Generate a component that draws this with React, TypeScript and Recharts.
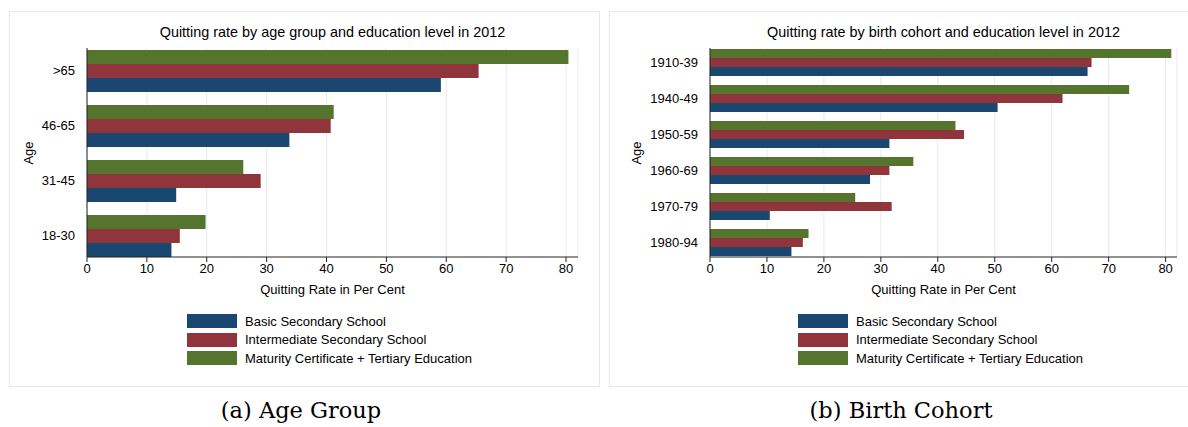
import React from "react";
import { BarChart, Bar, XAxis, YAxis, CartesianGrid } from "recharts";

// (a) age groups, top to bottom
const ageGroups = [">65", "46-65", "31-45", "18-30"];
const ageBasic = [59.1, 33.8, 14.9, 14.1];
const ageInter = [65.4, 40.7, 29.0, 15.5];
const ageMatura = [80.4, 41.2, 26.1, 19.8];

// (b) birth cohorts, top to bottom
const cohorts = ["1910-39", "1940-49", "1950-59", "1960-69", "1970-79", "1980-94"];
const cohortBasic = [66.3, 50.5, 31.5, 28.1, 10.5, 14.3];
const cohortInter = [67.0, 61.9, 44.6, 31.5, 31.9, 16.3];
const cohortMatura = [81.0, 73.6, 43.1, 35.7, 25.5, 17.3];

const xTicks = [0, 10, 20, 30, 40, 50, 60, 70, 80];
const seriesNames = [
  "Basic Secondary School",
  "Intermediate Secondary School",
  "Maturity Certificate + Tertiary Education",
];
const colors = ["#1a476f", "#90353b", "#55752f"];

const sans = "'Liberation Sans', Arial, sans-serif";
const H = 300;
const TOP = 48;
const BOTTOM = 257;

function Panel({
  x, width, title, cats, basic, inter, matura, plotLeft, plotRight, pad, gap, caption, captionX, labelX, boxRight,
}: {
  x: number; width: number; title: string; cats: string[]; basic: number[]; inter: number[]; matura: number[];
  plotLeft: number; plotRight: number; pad: [number, number]; gap: number; caption: string; captionX: number;
  labelX: number; boxRight: number;
}) {
  const data = cats.map((c, i) => ({ name: c, basic: basic[i], inter: inter[i], matura: matura[i] }));
  const yw = 70;
  const center = (plotLeft + plotRight) / 2;
  return (
    <div style={{ position: "absolute", left: x, top: 0, width, height: 427 }}>
      <div style={{ position: "absolute", left: 9, top: 11, width: boxRight - 9, height: 376, border: "1px solid #e4eaec", boxSizing: "border-box" }} />
      <div style={{ position: "absolute", left: center - 250, width: 500, top: 24, textAlign: "center", fontFamily: sans, fontSize: 14.4, color: "#000" }}>
        {title}
      </div>
      <div style={{ position: "absolute", left: 0, top: 0 }}>
        <BarChart
          width={width}
          height={H}
          data={data}
          layout="vertical"
          margin={{ top: TOP, right: width - plotRight, bottom: H - BOTTOM - 30, left: plotLeft - yw }}
          barGap={0}
          barCategoryGap={gap}
        >
          <CartesianGrid horizontal={false} stroke="#e6eaeb" />
          <XAxis type="number" domain={[0, 82]} ticks={xTicks} height={30} tickSize={5}
            axisLine={{ stroke: "#222" }} tickLine={{ stroke: "#222" }}
            tick={{ fontSize: 13, fill: "#000", fontFamily: sans }} />
          <YAxis type="category" dataKey="name" width={yw} padding={{ top: pad[0], bottom: pad[1] }}
            axisLine={{ stroke: "#222" }} tickLine={false} tickMargin={6}
            tick={{ fontSize: 13, fill: "#000", fontFamily: sans }} />
          <Bar dataKey="matura" fill={colors[2]} isAnimationActive={false} />
          <Bar dataKey="inter" fill={colors[1]} isAnimationActive={false} />
          <Bar dataKey="basic" fill={colors[0]} isAnimationActive={false} />
        </BarChart>
      </div>
      <div style={{ position: "absolute", left: labelX - 60, top: (TOP + BOTTOM) / 2 - 8, width: 120, textAlign: "center", transform: "rotate(-90deg)", fontFamily: sans, fontSize: 13, color: "#000", lineHeight: "16px" }}>
        Age
      </div>
      <div style={{ position: "absolute", left: center - 150, width: 300, top: 282, textAlign: "center", fontFamily: sans, fontSize: 13, color: "#000" }}>
        Quitting Rate in Per Cent
      </div>
      <div style={{ position: "absolute", left: center - 145.5, top: 312 }}>
        {seriesNames.map((n, i) => (
          <div key={n} style={{ display: "flex", alignItems: "center", height: 18.5 }}>
            <div style={{ width: 50, height: 14, background: colors[i], marginRight: 8 }} />
            <span style={{ fontFamily: sans, fontSize: 13, color: "#000", whiteSpace: "nowrap" }}>{n}</span>
          </div>
        ))}
      </div>
      <div style={{ position: "absolute", left: captionX - 150, width: 300, top: 397, textAlign: "center", fontFamily: "'DejaVu Serif', serif", fontSize: 22.5, color: "#000" }}>
        {caption}
      </div>
    </div>
  );
}

export default function App() {
  return (
    <div style={{ position: "absolute", left: 0, top: 0, width: 1188, height: 427, background: "#fff", overflow: "hidden" }}>
      <Panel x={0} width={600} title="Quitting rate by age group and education level in 2012"
        cats={ageGroups} basic={ageBasic} inter={ageInter} matura={ageMatura}
        plotLeft={87} plotRight={578} pad={[-5, -6]} gap={7} caption="(a) Age Group" captionX={301}
        labelX={29} boxRight={600} />
      <Panel x={600} width={588} title="Quitting rate by birth cohort and education level in 2012"
        cats={cohorts} basic={cohortBasic} inter={cohortInter} matura={cohortMatura}
        plotLeft={110} plotRight={577} pad={[-3.5, -3.5]} gap={4.5} caption="(b) Birth Cohort" captionX={301}
        labelX={37} boxRight={610} />
    </div>
  );
}
